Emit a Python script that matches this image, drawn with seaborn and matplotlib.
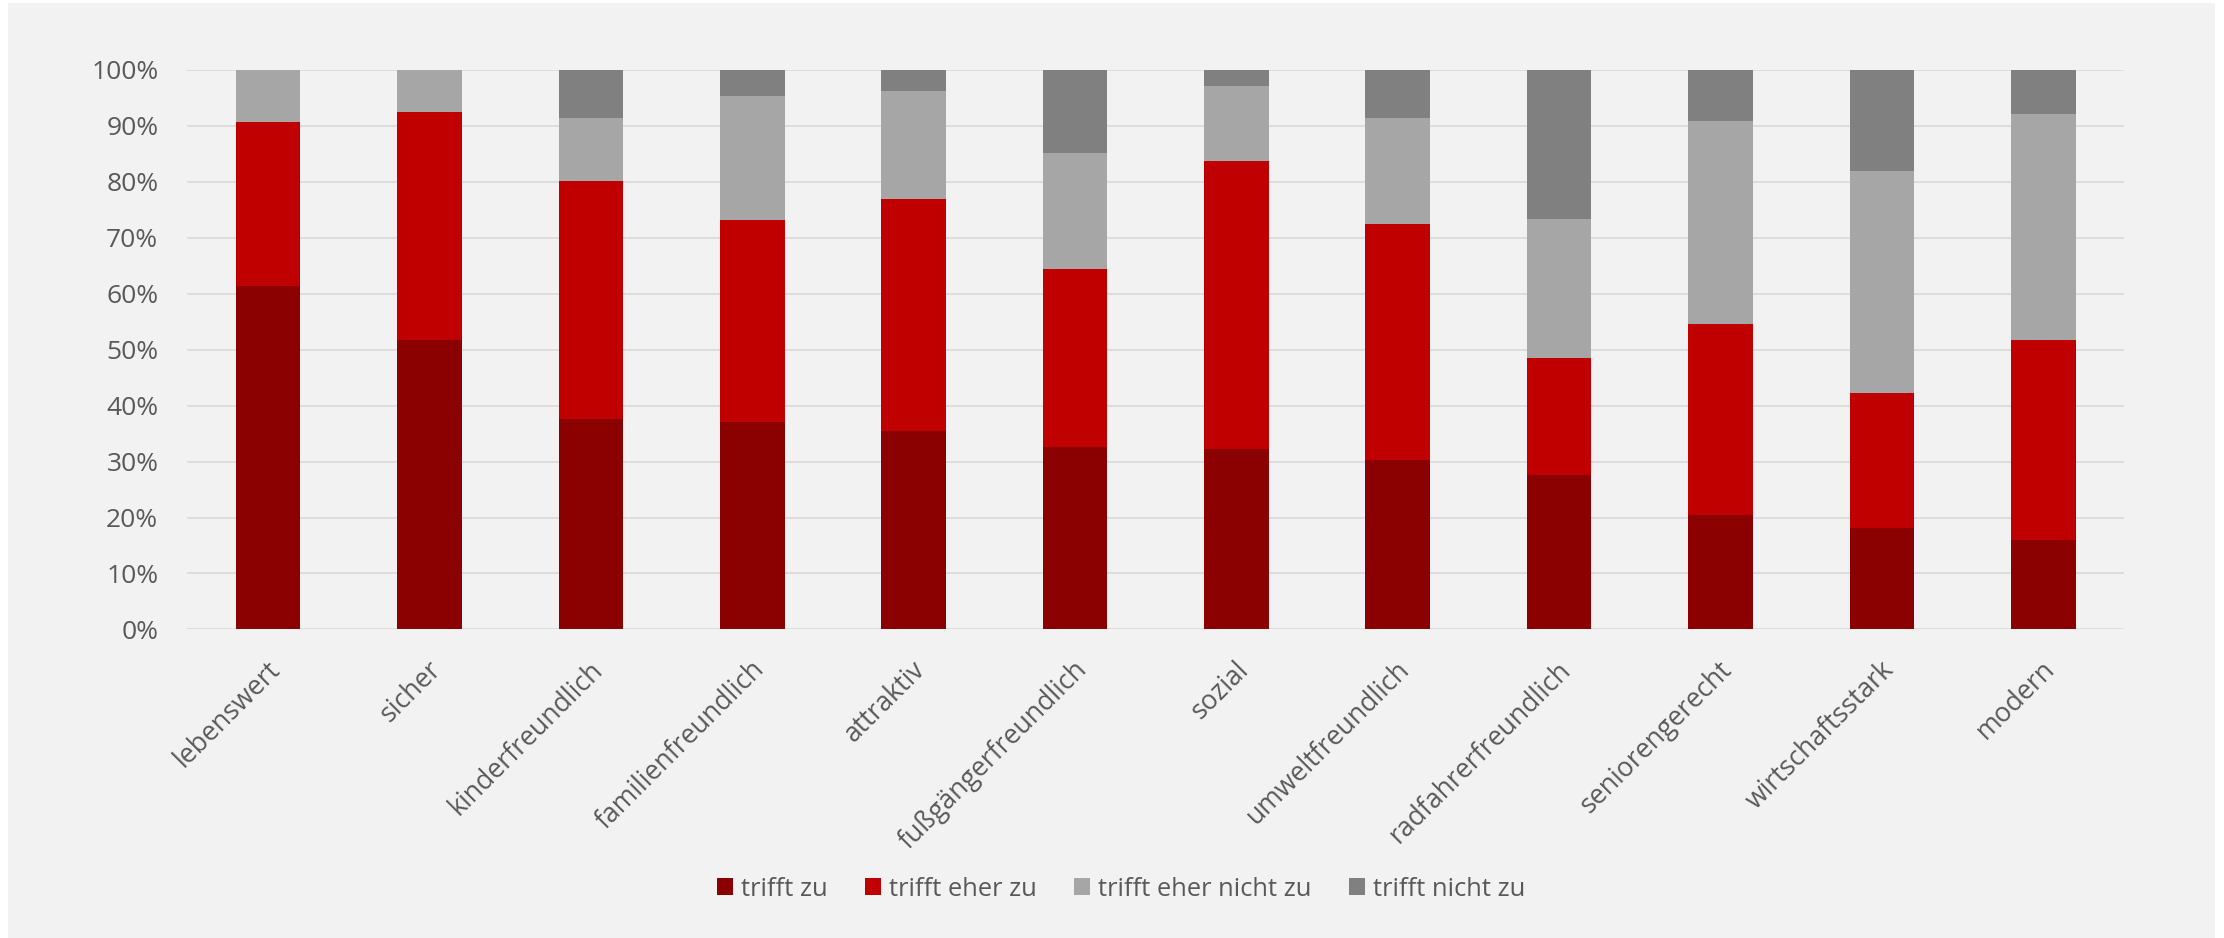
import numpy as np
import pandas as pd
import matplotlib
matplotlib.use("Agg")
import matplotlib.pyplot as plt
import matplotlib.transforms as mtransforms
from matplotlib.patches import Patch, Rectangle
from matplotlib.ticker import FuncFormatter, MultipleLocator
import seaborn as sns

# ── Données (en %) ──────────────────────────────────────────────────────
categories = ["lebenswert", "sicher", "kinderfreundlich", "familienfreundlich",
              "attraktiv", "fußgängerfreundlich", "sozial", "umweltfreundlich",
              "radfahrerfreundlich", "seniorengerecht", "wirtschaftsstark", "modern"]
trifft_zu = [61.4, 51.8, 37.6, 37.1, 35.5, 32.6, 32.3, 30.2, 27.6, 20.5, 18.1, 15.9]
trifft_eher_zu = [29.3, 40.7, 42.5, 36.1, 41.4, 31.8, 51.4, 42.3, 20.9, 34.1, 24.2, 35.9]
trifft_eher_nicht_zu = [9.3, 7.5, 11.3, 22.1, 19.3, 20.7, 13.5, 18.9, 24.8, 36.2, 39.6, 40.3]
trifft_nicht_zu = [0.0, 0.0, 8.6, 4.7, 3.8, 14.9, 2.8, 8.6, 26.7, 9.2, 18.1, 7.9]

series_names = ["trifft zu", "trifft eher zu", "trifft eher nicht zu", "trifft nicht zu"]
colors = ["#8B0000", "#C00000", "#A6A6A6", "#808080"]

BG = "#F2F2F2"
GRID = "#D9D9D9"
TEXT = "#595959"


def main():
    df = pd.DataFrame({
        "kategorie": categories,
        series_names[0]: trifft_zu,
        series_names[1]: trifft_eher_zu,
        series_names[2]: trifft_eher_nicht_zu,
        series_names[3]: trifft_nicht_zu,
    })
    # Cumul pour empiler : on dessine du haut vers le bas
    cum = df[series_names].cumsum(axis=1)

    sns.set_style("white", rc={"axes.facecolor": BG})
    plt.rcParams["font.family"] = ["Open Sans", "DejaVu Sans"]

    fig = plt.figure(figsize=(11.12, 4.69), dpi=200, facecolor="white")
    # Panneau gris de fond
    fig.patches.append(Rectangle((8 / 2224, 0), (2215 - 8) / 2224, 1 - 3 / 938,
                                 transform=fig.transFigure, facecolor=BG,
                                 edgecolor="none", zorder=-10))
    ax = fig.add_axes([0.0843, 0.329, 0.955 - 0.0843, 0.9254 - 0.329])
    ax.set_facecolor(BG)

    for name, col in reversed(list(zip(series_names, colors))):
        sns.barplot(x=df["kategorie"], y=cum[name], color=col, width=0.4,
                    saturation=1, linewidth=0, ax=ax, zorder=3)

    ax.set_xlim(-0.5, len(categories) - 0.5)
    ax.set_ylim(0, 100)
    ax.yaxis.set_major_locator(MultipleLocator(10))
    ax.yaxis.set_major_formatter(FuncFormatter(lambda v, p: f"{v:.0f}%"))
    ax.grid(axis="y", color=GRID, linewidth=0.6, zorder=0)
    ax.set_axisbelow(True)
    for s in ax.spines.values():
        s.set_visible(False)
    ax.set_xlabel("")
    ax.set_ylabel("")

    ax.tick_params(axis="y", length=0, pad=10.5, labelsize=9.5, labelcolor=TEXT)
    ax.tick_params(axis="x", length=0, pad=13, labelsize=9.6, labelcolor=TEXT)

    offset = mtransforms.ScaledTranslation(0.04, 0, fig.dpi_scale_trans)
    for lab in ax.get_xticklabels():
        lab.set_rotation(45)
        lab.set_ha("right")
        lab.set_va("center")
        lab.set_rotation_mode("anchor")
        lab.set_transform(lab.get_transform() + offset)

    handles = [Patch(facecolor=c, edgecolor="none", label=n)
               for n, c in zip(series_names, colors)]
    fig.legend(handles=handles, loc="center", bbox_to_anchor=(0.504, 0.052),
               ncol=4, frameon=False, fontsize=9.2, labelcolor=TEXT,
               handlelength=0.65, handleheight=0.65, handletextpad=0.3,
               columnspacing=1.45)

    fig.savefig("out.png", dpi=200, facecolor="white")


if __name__ == "__main__":
    main()
